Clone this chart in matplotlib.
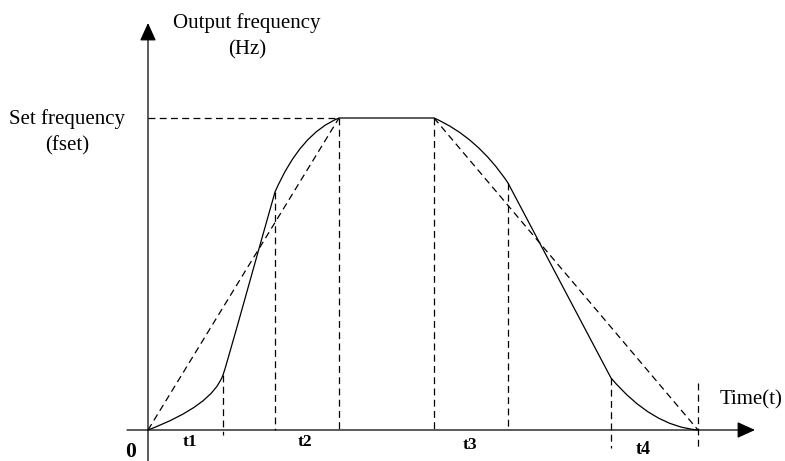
import matplotlib
matplotlib.use('Agg')
import matplotlib.pyplot as plt
from matplotlib.path import Path
from matplotlib.patches import PathPatch

# Segment boundaries of the S-curve (time units) and output frequency at each
t_knots = [0, 75, 127, 191, 286, 360, 463, 550]
f_knots = [0, 55, 238, 312, 312, 247, 52, 0]
f_set = 312

# Bezier control points for the curved parts of the profile
ctrl_acc_start = [(64, 24.3)]
ctrl_acc_mid = [(79, 66), (112, 185.5)]
ctrl_acc_end = [(152.5, 296.6)]
ctrl_dec_start = [(329.4, 292.9)]
ctrl_dec_end = [(504, 3.7)]

# Lower ends of the dashed markers (some run past the time axis)
marker_bottom = [-5, 0, 0, 0, 0, -18, -20]
marker_top_last = 47

plt.rcParams['font.family'] = ['Liberation Serif', 'DejaVu Serif']
LW = 0.9
DASH = (0, (5.5, 3.5))

fig = plt.figure(figsize=(7.85, 4.61), dpi=100)
ax = fig.add_axes([0, 0, 1, 1])
ax.set_xlim(-148, 637)
ax.set_ylim(-31, 430)
ax.axis('off')

# coordinate axes with filled arrow heads
arrow = dict(arrowstyle='-|>,head_length=0.55,head_width=0.25', mutation_scale=20,
             color='black', lw=LW, shrinkA=0, shrinkB=0)
ax.annotate('', xy=(607, 0), xytext=(-21, 0), arrowprops=arrow)
ax.annotate('', xy=(0, 407), xytext=(0, -31), arrowprops=arrow)

# S-curve acceleration / constant / deceleration profile
verts = [(t_knots[0], f_knots[0]),
         ctrl_acc_start[0], (t_knots[1], f_knots[1]),
         ctrl_acc_mid[0], ctrl_acc_mid[1], (t_knots[2], f_knots[2]),
         ctrl_acc_end[0], (t_knots[3], f_knots[3]),
         (t_knots[4], f_knots[4]),
         ctrl_dec_start[0], (t_knots[5], f_knots[5]),
         (t_knots[6], f_knots[6]),
         ctrl_dec_end[0], (t_knots[7], f_knots[7])]
codes = [Path.MOVETO,
         Path.CURVE3, Path.CURVE3,
         Path.CURVE4, Path.CURVE4, Path.CURVE4,
         Path.CURVE3, Path.CURVE3,
         Path.LINETO,
         Path.CURVE3, Path.CURVE3,
         Path.LINETO,
         Path.CURVE3, Path.CURVE3]
ax.add_patch(PathPatch(Path(verts, codes), facecolor='none', edgecolor='black', lw=LW))

# straight-line (linear) acceleration and deceleration for comparison
ax.plot([t_knots[0], t_knots[3]], [0, f_set], color='black', lw=LW, linestyle=DASH)
ax.plot([t_knots[4], t_knots[7]], [f_set, 0], color='black', lw=LW, linestyle=DASH)
ax.plot([0, t_knots[3]], [f_set, f_set], color='black', lw=LW, linestyle=DASH)

# vertical markers at each segment boundary
for i, t in enumerate(t_knots[1:]):
    top = f_knots[i + 1] if i < 6 else marker_top_last
    ax.plot([t, t], [top, marker_bottom[i]], color='black', lw=LW, linestyle=DASH)

fs = 15
ax.text(99, 407, 'Output frequency', ha='center', va='center', fontsize=fs)
ax.text(99, 380, '(Hz)', ha='center', va='center', fontsize=fs)
ax.text(-81, 311, 'Set frequency', ha='center', va='center', fontsize=fs)
ax.text(-81, 284, '(fset)', ha='center', va='center', fontsize=fs)
ax.text(603, 30, 'Time(t)', ha='center', va='center', fontsize=fs)
ax.text(-17, -22, '0', ha='center', va='center', fontsize=15.5, fontweight='bold')
ax.text(42, -12, 't1', ha='center', va='center', fontsize=12.5, fontweight='bold')
ax.text(157, -12, 't2', ha='center', va='center', fontsize=12.5, fontweight='bold')
ax.text(322, -15, 't3', ha='center', va='center', fontsize=12.5, fontweight='bold')
ax.text(495, -19, 't4', ha='center', va='center', fontsize=13, fontweight='bold')

fig.savefig('out.png', dpi=100)
